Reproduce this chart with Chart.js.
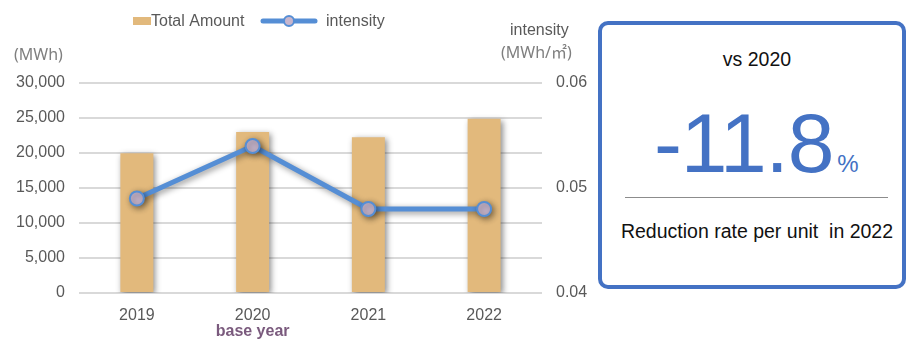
<!DOCTYPE html>
<html>
<head>
<meta charset="utf-8">
<script src="https://cdn.jsdelivr.net/npm/chart.js@4.4.1/dist/chart.umd.min.js"></script>
<style>
  body { margin: 0; background: #fff; width: 908px; height: 339px; overflow: hidden; position: relative; font-family: "Liberation Sans", Arial, sans-serif; }
  #wrap { position: absolute; left: 0; top: 0; width: 595px; height: 339px; }
  .lbl { position: absolute; white-space: nowrap; line-height: 1; }
  .unit { font-family: "Noto Sans", "Noto Sans CJK JP", sans-serif; font-size: 16px; color: #7f7f7f; }
  #box { position: absolute; left: 598px; top: 21px; width: 308px; height: 268px; box-sizing: border-box; border: 4.5px solid #4472c4; border-radius: 10px; }
  .ctr { position: absolute; left: 607px; width: 300px; text-align: center; white-space: nowrap; line-height: 1; color: #111; }
</style>
</head>
<body>
<div id="wrap"><canvas id="chart"></canvas></div>

<div class="lbl unit" style="left:14px; top:46px;">(MWh)</div>
<div class="lbl" style="left:510px; top:22px; font-size:16px; color:#595959;">intensity</div>
<div class="lbl unit" style="left:501px; top:44px;">(MWh/㎡)</div>

<div id="box"></div>
<div class="ctr" style="top:50px; font-size:19.5px;">vs 2020</div>
<div class="lbl" style="left:654px; top:101px; color:#4472c4;">
  <span style="font-size:84px; letter-spacing:-1.2px;">-11.8</span><span style="font-size:24px; margin-left:4px;">%</span>
</div>
<div style="position:absolute; left:625px; top:197px; width:263px; height:0; border-top:1.5px solid #8c8c8c;"></div>
<div class="ctr" style="top:222px; font-size:19.5px;">Reduction rate per unit&nbsp; in 2022</div>

<script>
// data
const years = ['2019', '2020', '2021', '2022'];
const totalAmount = [19950, 23000, 22250, 24900];   // MWh
const intensity = [0.049, 0.054, 0.048, 0.048];     // MWh/m2
const baseYearIndex = 1;
const baseYearLabel = 'base year';

const amountAxis = { min: 0, max: 30000, step: 5000 };
const intensityAxis = { min: 0.04, max: 0.06, step: 0.01 };

const BAR = '#e2b97c';
const LINE = '#558ed5';
const DOT = '#c8b6cd';
const TXT = '#595959';
const FONT = '"Liberation Sans", Arial, sans-serif';

// soft drop shadow like the office chart
const shadowPlugin = {
  id: 'shadow',
  beforeDatasetDraw(chart) {
    const ctx = chart.ctx;
    ctx.save();
    ctx.shadowColor = 'rgba(0,0,0,0.45)';
    ctx.shadowBlur = 6;
    ctx.shadowOffsetX = 2;
    ctx.shadowOffsetY = 2;
  },
  afterDatasetDraw(chart) {
    chart.ctx.restore();
  }
};

// legend + "base year" note
const extrasPlugin = {
  id: 'extras',
  afterDraw(chart) {
    const ctx = chart.ctx;
    const ds = chart.data.datasets;
    ctx.save();
    ctx.font = '16px ' + FONT;
    ctx.fillStyle = TXT;
    ctx.textBaseline = 'middle';
    ctx.textAlign = 'left';

    // bar item
    ctx.fillStyle = ds[1].backgroundColor;
    ctx.fillRect(133, 17, 18, 8);
    ctx.fillStyle = TXT;
    ctx.fillText(ds[1].label, 151, 22);

    // line item
    ctx.strokeStyle = ds[0].borderColor;
    ctx.lineWidth = 5;
    ctx.lineCap = 'round';
    ctx.beginPath();
    ctx.moveTo(263, 21);
    ctx.lineTo(315, 21);
    ctx.stroke();
    ctx.beginPath();
    ctx.arc(289, 21, 5, 0, Math.PI * 2);
    ctx.fillStyle = ds[0].pointBackgroundColor;
    ctx.fill();
    ctx.lineWidth = 2;
    ctx.stroke();
    ctx.fillStyle = TXT;
    ctx.fillText(ds[0].label, 326, 22);

    // base year under the 2020 label
    const x = chart.scales.x.getPixelForValue(baseYearIndex);
    ctx.font = 'bold 16px ' + FONT;
    ctx.fillStyle = '#7a5a7d';
    ctx.textAlign = 'center';
    ctx.fillText(baseYearLabel, x, 332);
    ctx.restore();
  }
};

new Chart(document.getElementById('chart'), {
  data: {
    labels: years,
    datasets: [
      {
        type: 'line',
        label: 'intensity',
        data: intensity,
        yAxisID: 'y1',
        order: 0,
        borderColor: LINE,
        borderWidth: 5,
        tension: 0,
        pointRadius: 7,
        pointBorderWidth: 2,
        pointBorderColor: LINE,
        pointBackgroundColor: DOT
      },
      {
        type: 'bar',
        label: 'Total Amount',
        data: totalAmount,
        yAxisID: 'y',
        order: 1,
        backgroundColor: BAR,
        barPercentage: 0.285,
        categoryPercentage: 1
      }
    ]
  },
  options: {
    responsive: true,
    maintainAspectRatio: false,
    animation: false,
    events: [],
    layout: { padding: { top: 83, left: 0, right: 0, bottom: 0 } },
    plugins: { legend: { display: false }, tooltip: { enabled: false } },
    scales: {
      x: {
        grid: { display: false },
        border: { display: false },
        ticks: { color: TXT, font: { family: FONT, size: 16 }, padding: 5 },
        afterFit(s) { s.height = 46; }
      },
      y: {
        position: 'left',
        min: amountAxis.min,
        max: amountAxis.max,
        grid: { color: '#d9d9d9', lineWidth: 2, drawTicks: false },
        border: { display: false },
        ticks: {
          stepSize: amountAxis.step,
          color: TXT,
          font: { family: FONT, size: 16 },
          padding: 14,
          callback: v => v.toLocaleString('en-US')
        },
        afterFit(s) { s.width = 79; }
      },
      y1: {
        position: 'right',
        min: intensityAxis.min,
        max: intensityAxis.max,
        grid: { display: false, drawTicks: false },
        border: { display: false },
        ticks: {
          stepSize: intensityAxis.step,
          color: TXT,
          font: { family: FONT, size: 16 },
          padding: 14,
          callback: v => v.toFixed(2)
        },
        afterFit(s) { s.width = 53; }
      }
    }
  },
  plugins: [shadowPlugin, extrasPlugin]
});
</script>
</body>
</html>
